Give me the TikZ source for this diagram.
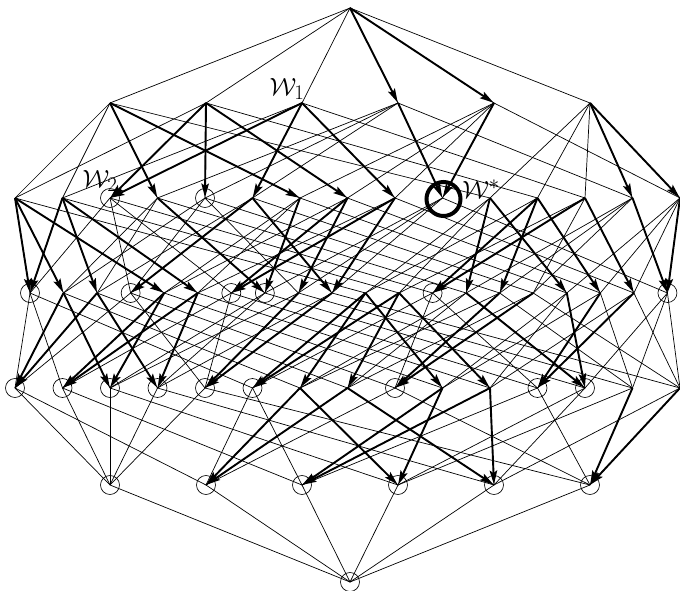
\documentclass[tikz,border=0pt]{standalone}
\usetikzlibrary{arrows.meta}
\begin{document}
\begin{tikzpicture}[x=1pt,y=-1pt,
  edge/.style={line width=0.7pt},
  barrow/.style={line width=1.9pt,-{Stealth[length=14pt,width=7.5pt,inset=2.5pt]},shorten >=0.5pt},
  ring/.style={draw,circle,line width=0.65pt,minimum size=19pt,inner sep=0pt},
  bigring/.style={draw,circle,line width=4pt,minimum size=34pt,inner sep=0pt},
  lab/.style={inner sep=0pt,font=\Huge}]
\useasboundingbox (0,0) rectangle (680,591);
% level 0
\coordinate (top) at (350,8);
% level 1
\coordinate (s1) at (110,103);
\coordinate (s2) at (206,103);
\coordinate (s3) at (302,103);
\coordinate (s4) at (398,103);
\coordinate (s5) at (494,103);
\coordinate (s6) at (590,103);
% level 2 (colex order)
\foreach \n [count=\j from 0] in {12,13,23,14,24,34,15,25,35,45,16,26,36,46,56}
  \coordinate (s\n) at ({15+47.5*\j},198);
% level 3
\foreach \n [count=\k from 0] in {123,124,134,234,125,135,235,145,245,345,126,136,236,146,246,346,156,256,356,456}
  \coordinate (s\n) at ({30+33.55*\k},293);
% level 4
\foreach \n [count=\j from 0] in {1234,1235,1245,1345,2345,1236,1246,1346,2346,1256,1356,2356,1456,2456,3456}
  \coordinate (s\n) at ({15+47.5*\j},388);
% level 5
\foreach \n [count=\i from 0] in {12345,12346,12356,12456,13456,23456}
  \coordinate (s\n) at ({110+96*\i},485);
% level 6
\coordinate (s123456) at (350,582);

% thin lattice edges
\foreach \b in {1,...,6} \draw[edge] (top) -- (s\b);
\foreach \a/\b in {1/12,2/12,1/13,3/13,1/14,4/14,1/15,5/15,1/16,6/16,2/23,3/23,2/24,4/24,2/25,5/25,2/26,6/26,3/34,4/34,3/35,5/35,3/36,6/36,4/45,5/45,4/46,6/46,5/56,6/56}
  \draw[edge] (s\a) -- (s\b);
\foreach \a/\b in {12/123,13/123,23/123,12/124,14/124,24/124,12/125,15/125,25/125,12/126,16/126,26/126,13/134,14/134,34/134,13/135,15/135,35/135,13/136,16/136,36/136,14/145,15/145,45/145,14/146,16/146,46/146,15/156,16/156,56/156,23/234,24/234,34/234,23/235,25/235,35/235,23/236,26/236,36/236,24/245,25/245,45/245,24/246,26/246,46/246,25/256,26/256,56/256,34/345,35/345,45/345,34/346,36/346,46/346,35/356,36/356,56/356,45/456,46/456,56/456}
  \draw[edge] (s\a) -- (s\b);
\foreach \a/\b in {234/1234,134/1234,124/1234,123/1234,235/1235,135/1235,125/1235,123/1235,236/1236,136/1236,126/1236,123/1236,245/1245,145/1245,125/1245,124/1245,246/1246,146/1246,126/1246,124/1246,256/1256,156/1256,126/1256,125/1256,345/1345,145/1345,135/1345,134/1345,346/1346,146/1346,136/1346,134/1346,356/1356,156/1356,136/1356,135/1356,456/1456,156/1456,146/1456,145/1456,345/2345,245/2345,235/2345,234/2345,346/2346,246/2346,236/2346,234/2346,356/2356,256/2356,236/2356,235/2356,456/2456,256/2456,246/2456,245/2456,456/3456,356/3456,346/3456,345/3456}
  \draw[edge] (s\a) -- (s\b);
\foreach \a/\b in {2345/12345,1345/12345,1245/12345,1235/12345,1234/12345,2346/12346,1346/12346,1246/12346,1236/12346,1234/12346,2356/12356,1356/12356,1256/12356,1236/12356,1235/12356,2456/12456,1456/12456,1256/12456,1246/12456,1245/12456,3456/13456,1456/13456,1356/13456,1346/13456,1345/13456,3456/23456,2456/23456,2356/23456,2346/23456,2345/23456}
  \draw[edge] (s\a) -- (s\b);
\foreach \a in {12345,12346,12356,12456,13456,23456}
  \draw[edge] (s\a) -- (s123456);

% rings marking nodes without outgoing arrows
\foreach \n in {23,24,123,234,235,145,236,456,1234,1235,1245,1345,2345,1236,2346,2356,1456,12345,12346,12356,12456,13456,23456,123456}
  \node[ring] (c\n) at (s\n) {};
\node[bigring] (c45) at ([shift={(1,1)}]s45) {};

% bold arrows
\draw[barrow] (top) -- (s4);
\draw[barrow] (top) -- (s5);
\foreach \a/\b in {1/14,1/15,2/23,2/24,2/25,3/23,3/34,3/35,4/45,5/45,6/46,6/56}
  \draw[barrow] (s\a) -- (s\b);
\foreach \a/\b in {12/123,12/124,12/125,13/123,13/134,13/135,14/145,15/145,25/235,25/245,34/234,34/345,35/235,35/345,16/146,16/156,26/236,26/246,26/256,36/236,36/356,46/456,56/456}
  \draw[barrow] (s\a) -- (s\b);
\foreach \a/\b in {124/1234,124/1245,134/1234,134/1345,125/1235,125/1245,135/1235,135/1345,245/2345,345/2345,126/1236,126/1246,126/1256,136/1236,136/1346,136/1356,146/1456,156/1456,246/2346,256/2356,346/2346,356/2356}
  \draw[barrow] (s\a) -- (s\b);
\foreach \a/\b in {1246/12346,1246/12456,1346/12346,1346/13456,1256/12356,1256/12456,1356/12356,1356/13456,2456/23456,3456/23456}
  \draw[barrow] (s\a) -- (s\b);

% labels
\node[lab] (w1) at (287,89) {$\mathcal{W}_1$};
\node[lab] (w2) at (100,181) {$\mathcal{W}_2$};
\node[lab] (wstar) at (481,189) {$\mathcal{W}^{*}$};
\end{tikzpicture}
\end{document}
